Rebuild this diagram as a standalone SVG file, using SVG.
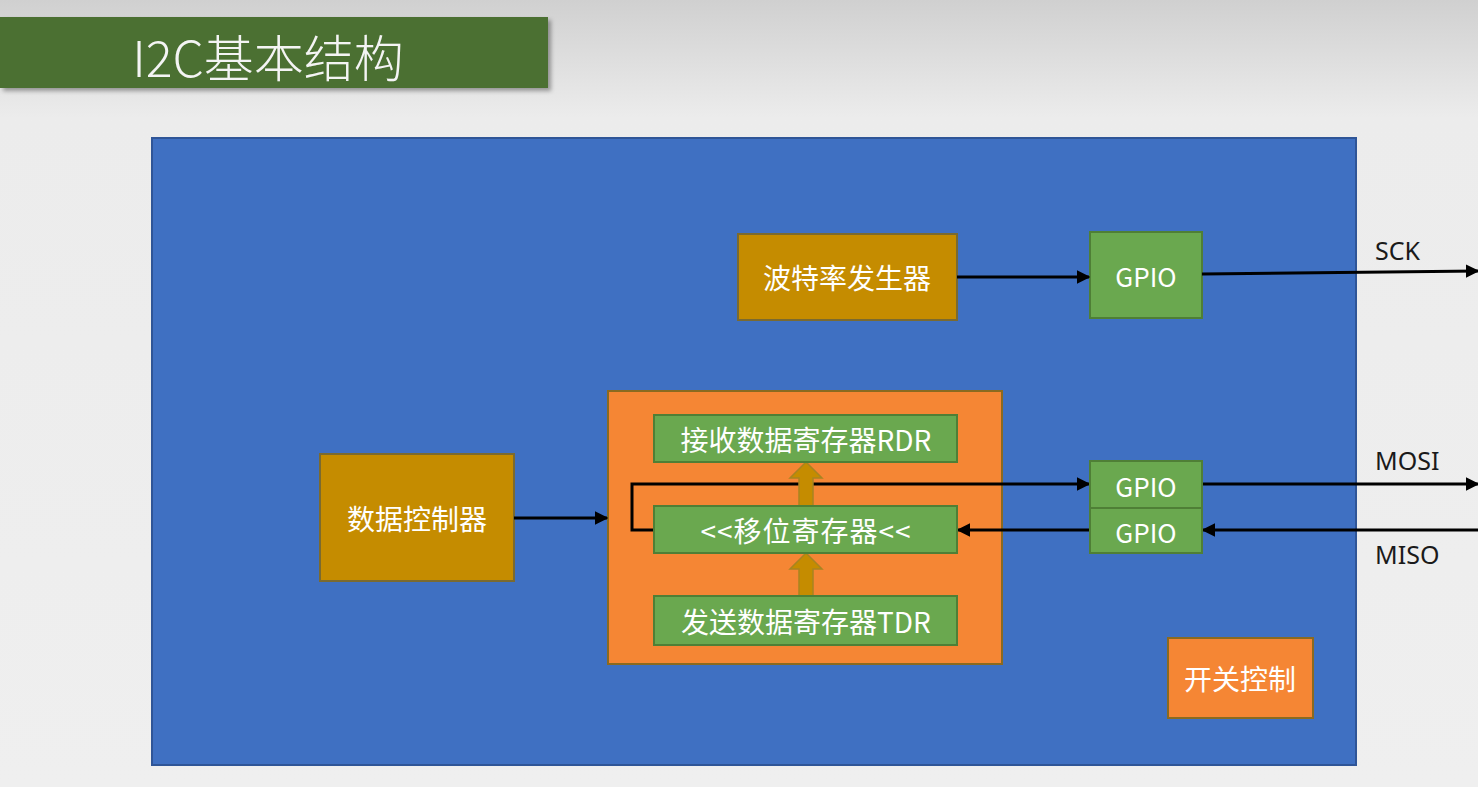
<svg xmlns="http://www.w3.org/2000/svg" width="1478" height="787" viewBox="0 0 1478 787">
<defs>
<linearGradient id="bg" x1="0" y1="0" x2="0" y2="1">
<stop offset="0" stop-color="#d0d0d0"/>
<stop offset="0.15" stop-color="#ececec"/>
<stop offset="1" stop-color="#efefef"/>
</linearGradient>
<filter id="sh" x="-5%" y="-10%" width="115%" height="130%">
<feDropShadow dx="3" dy="3" stdDeviation="2" flood-color="#000" flood-opacity="0.35"/>
</filter>
<marker id="ah" viewBox="0 0 10 10" refX="9" refY="5" markerWidth="4.5" markerHeight="4.5" orient="auto" markerUnits="strokeWidth">
<path d="M0,0 L10,5 L0,10 z" fill="#000"/>
</marker>
<style>
.t{font-family:"Noto Sans CJK SC","Noto Sans",sans-serif;fill:#fff;text-anchor:middle;dominant-baseline:central}
.lbl{font-family:"Noto Sans","Noto Sans CJK SC",sans-serif;fill:#1a1a1a;font-size:25px}
.gold{fill:#c58c00;stroke:#7a6a30;stroke-width:2}
.green{fill:#6aa84f;stroke:#4f7f36;stroke-width:2}
.orange{fill:#f58634;stroke:#8a6a20;stroke-width:2}
.ln{stroke:#000;stroke-width:3;fill:none}
.blk{fill:#c58c00;stroke:#a88420;stroke-width:1.5}
</style>
</defs>
<rect x="0" y="0" width="1478" height="787" fill="url(#bg)"/>
<g id="title">
<rect x="0" y="17" width="548" height="71" fill="#4b7033" filter="url(#sh)"/>
<text x="268" y="55" class="t" style="font-size:50px;font-weight:300;fill:#f4f4f4">I2C基本结构</text>
</g>
<g id="chip">
<rect x="152" y="138" width="1204" height="627" fill="#3f70c2" stroke="#2f5597" stroke-width="2"/>
</g>
<g id="baud">
<rect x="738" y="234" width="219" height="86" class="gold"/>
<text x="847" y="277" class="t" style="font-size:28px">波特率发生器</text>
</g>
<g id="gpio-sck">
<rect x="1090" y="232" width="112" height="86" class="green"/>
<text x="1146" y="275" class="t" style="font-size:26px">GPIO</text>
</g>
<g id="shift-unit">
<rect x="608" y="391" width="394" height="273" class="orange"/>
</g>
<g id="datactl">
<rect x="320" y="454" width="194" height="127" class="gold"/>
<text x="417" y="518" class="t" style="font-size:28px">数据控制器</text>
</g>
<g id="switch">
<rect x="1168" y="638" width="145" height="80" class="orange"/>
<text x="1240" y="678" class="t" style="font-size:28px">开关控制</text>
</g>
<g id="connectors">
<line x1="957" y1="277" x2="1089" y2="277" class="ln" marker-end="url(#ah)"/>
<line x1="1202" y1="274" x2="1478" y2="271" class="ln" marker-end="url(#ah)"/>
<line x1="514" y1="518" x2="607" y2="518" class="ln" marker-end="url(#ah)"/>
<polyline points="654,530 632,530 632,484 1089,484" class="ln" marker-end="url(#ah)"/>
<line x1="1202" y1="484" x2="1478" y2="484" class="ln" marker-end="url(#ah)"/>
<line x1="1478" y1="530" x2="1203" y2="530" class="ln" marker-end="url(#ah)"/>
<line x1="1090" y1="530" x2="958" y2="530" class="ln" marker-end="url(#ah)"/>
<path d="M799,506 L799,478 L790,478 L806,462 L822,478 L813,478 L813,506 z" class="blk"/>
<path d="M799,596 L799,569 L790,569 L806,553 L822,569 L813,569 L813,596 z" class="blk"/>
</g>
<g id="rdr">
<rect x="654" y="415" width="303" height="47" class="green"/>
<text x="806" y="439" class="t" style="font-size:28px">接收数据寄存器RDR</text>
</g>
<g id="shift">
<rect x="654" y="506" width="303" height="47" class="green"/>
<text x="806" y="530" class="t" style="font-size:28px;letter-spacing:1px">&lt;&lt;移位寄存器&lt;&lt;</text>
</g>
<g id="tdr">
<rect x="654" y="596" width="303" height="49" class="green"/>
<text x="806" y="621" class="t" style="font-size:28px">发送数据寄存器TDR</text>
</g>
<g id="gpio-mosi">
<rect x="1090" y="461" width="112" height="47" class="green"/>
<text x="1146" y="485" class="t" style="font-size:26px">GPIO</text>
</g>
<g id="gpio-miso">
<rect x="1090" y="508" width="112" height="45" class="green"/>
<text x="1146" y="531" class="t" style="font-size:26px">GPIO</text>
</g>
<g id="labels">
<text x="1375" y="260" class="lbl">SCK</text>
<text x="1375" y="470" class="lbl">MOSI</text>
<text x="1375" y="564" class="lbl">MISO</text>
</g>
</svg>
